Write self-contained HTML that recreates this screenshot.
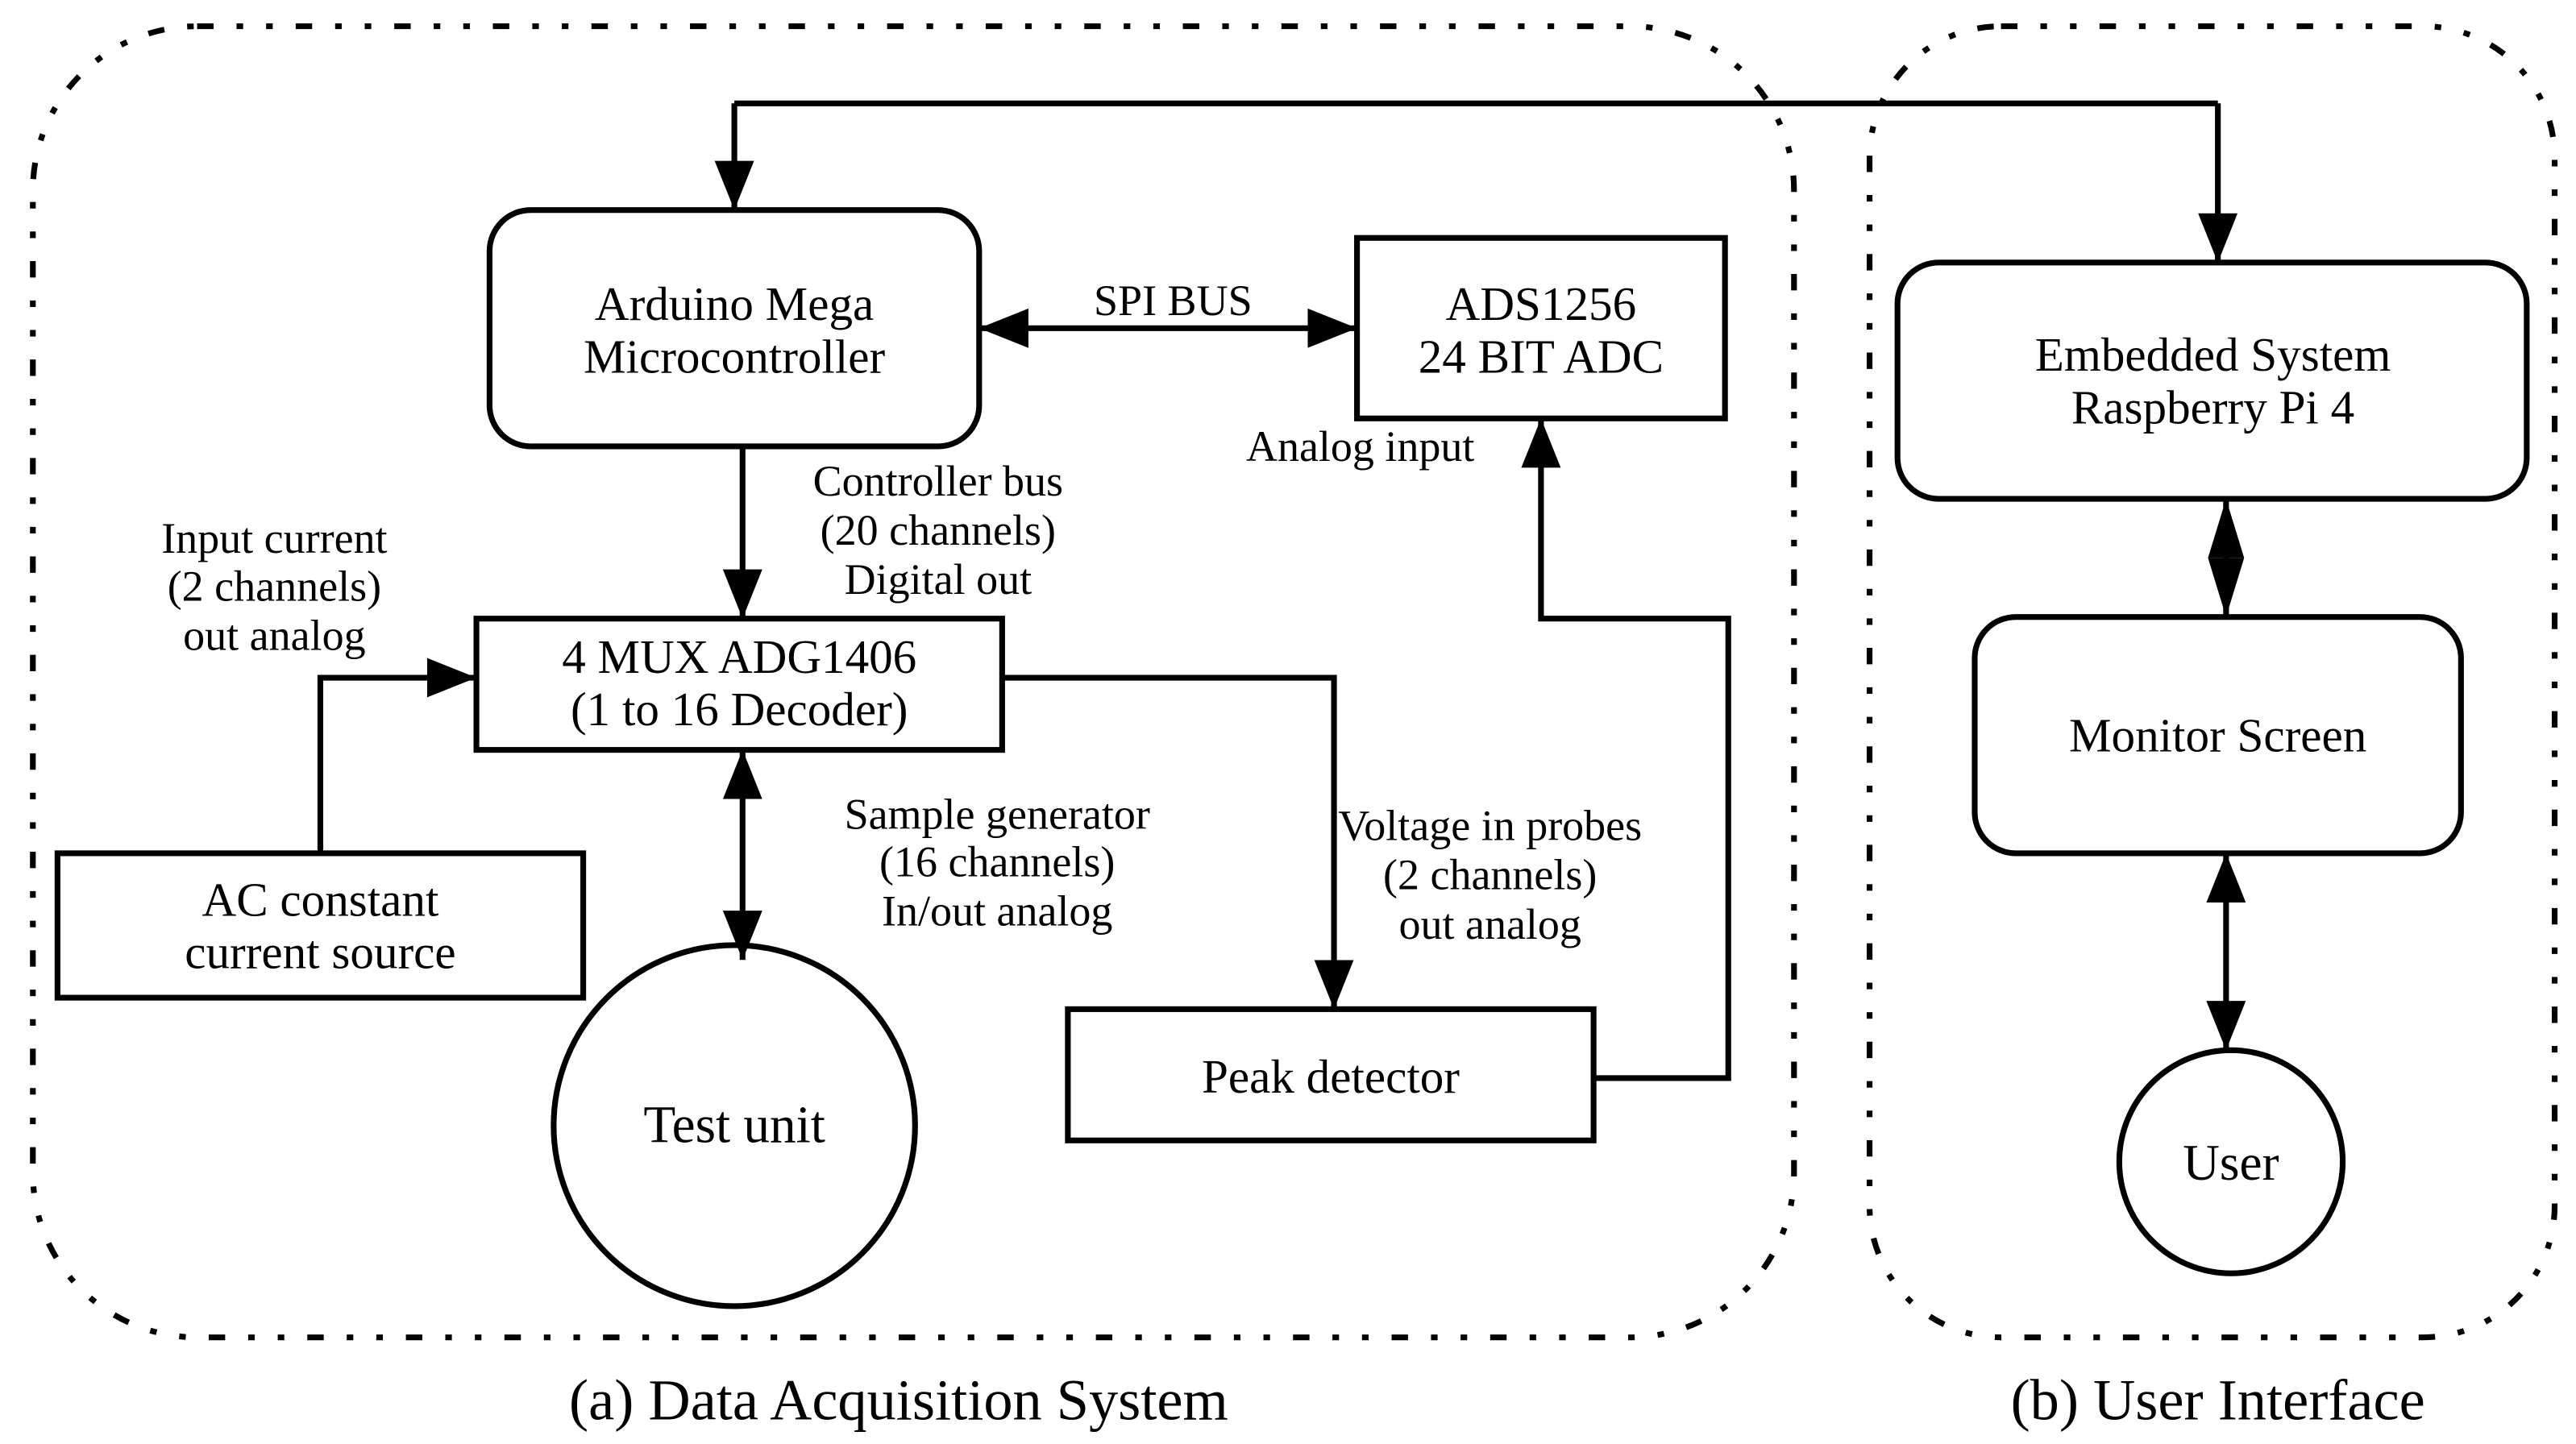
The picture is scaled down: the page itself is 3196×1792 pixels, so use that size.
<!DOCTYPE html>
<html><head><meta charset="utf-8"><style>
html,body{margin:0;padding:0;background:#fff;}
svg{display:block;}
text{font-family:"Liberation Serif",serif;font-size:29px;fill:#000;text-anchor:middle;}
.s{font-size:26.5px;}
</style></head><body>
<svg width="3196" height="1792" viewBox="0 0 1568 880" preserveAspectRatio="none" xmlns="http://www.w3.org/2000/svg">
<defs>
<marker id="a" viewBox="0 0 30 24" refX="30" refY="12" markerWidth="30" markerHeight="24" markerUnits="userSpaceOnUse" orient="auto-start-reverse">
<path d="M0,0 L30,12 L0,24 Z" fill="#000"/>
</marker>
<marker id="d" viewBox="0 0 36 22" refX="36" refY="11" markerWidth="36" markerHeight="22" markerUnits="userSpaceOnUse" orient="auto-start-reverse">
<path d="M0,0 L36,11 L0,22 Z" fill="#000"/>
</marker>
</defs>
<g fill="none" stroke="#000" stroke-width="3.5" stroke-dasharray="10 14 4 14 4 14">
<rect x="20" y="16" width="1072" height="799" rx="100" ry="100"/>
<rect x="1138" y="16" width="417" height="799" rx="80" ry="80"/>
</g>
<g fill="none" stroke="#000" stroke-width="3.5">
<rect x="298" y="128" width="298" height="144" rx="25"/>
<rect x="826" y="145" width="224" height="110"/>
<rect x="290" y="377" width="320" height="80"/>
<rect x="35" y="520" width="320" height="88"/>
<circle cx="447" cy="686" r="110"/>
<rect x="650" y="615" width="320" height="80"/>
<rect x="1155" y="160" width="383" height="144" rx="25"/>
<rect x="1202" y="376" width="296" height="144" rx="25"/>
<circle cx="1358" cy="708" r="68"/>
</g>
<g fill="none" stroke="#000" stroke-width="3.5">
<path d="M447,63 H1350" />
<path d="M447,63 V128" marker-end="url(#a)"/>
<path d="M1350,63 V160" marker-end="url(#a)"/>
<path d="M596,200 H826" marker-start="url(#a)" marker-end="url(#a)"/>
<path d="M452,272 V377" marker-end="url(#a)"/>
<path d="M195,520 V413 H290" marker-end="url(#a)"/>
<path d="M452,457 V585" marker-start="url(#a)" marker-end="url(#a)"/>
<path d="M610,413 H812 V615" marker-end="url(#a)"/>
<path d="M970,657 H1052 V377 H938 V255" marker-end="url(#a)"/>
<path d="M1355,304 V376" marker-start="url(#d)" marker-end="url(#d)"/>
<path d="M1355,520 V640" marker-start="url(#a)" marker-end="url(#a)"/>
</g>
<text x="447" y="195">Arduino Mega</text>
<text x="447" y="227">Microcontroller</text>
<text x="938" y="195">ADS1256</text>
<text x="938" y="227">24 BIT ADC</text>
<text x="714" y="192" class="s">SPI BUS</text>
<text x="828" y="281" class="s">Analog input</text>
<text x="571" y="302" class="s">Controller bus</text>
<text x="571" y="332" class="s">(20 channels)</text>
<text x="571" y="362" class="s">Digital  out</text>
<text x="167" y="337" class="s">Input current</text>
<text x="167" y="366" class="s">(2 channels)</text>
<text x="167" y="396" class="s">out analog</text>
<text x="450" y="410">4 MUX ADG1406</text>
<text x="450" y="442">(1 to  16 Decoder)</text>
<text x="195" y="558">AC constant</text>
<text x="195" y="590">current source</text>
<text x="607" y="505" class="s">Sample generator</text>
<text x="607" y="534" class="s">(16 channels)</text>
<text x="607" y="564" class="s">In/out analog</text>
<text x="907" y="512" class="s">Voltage in probes</text>
<text x="907" y="542" class="s">(2 channels)</text>
<text x="907" y="572" class="s">out analog</text>
<text x="447" y="696" style="font-size:32px">Test unit</text>
<text x="810" y="666">Peak detector</text>
<text x="1347" y="226">Embedded System</text>
<text x="1347" y="258">Raspberry Pi 4</text>
<text x="1350" y="458">Monitor Screen</text>
<text x="1358" y="719" style="font-size:31px">User</text>
<text x="547" y="865" style="font-size:35.5px">(a) Data Acquisition System</text>
<text x="1350" y="865" style="font-size:35.5px">(b) User Interface</text>
</svg>
</body></html>
